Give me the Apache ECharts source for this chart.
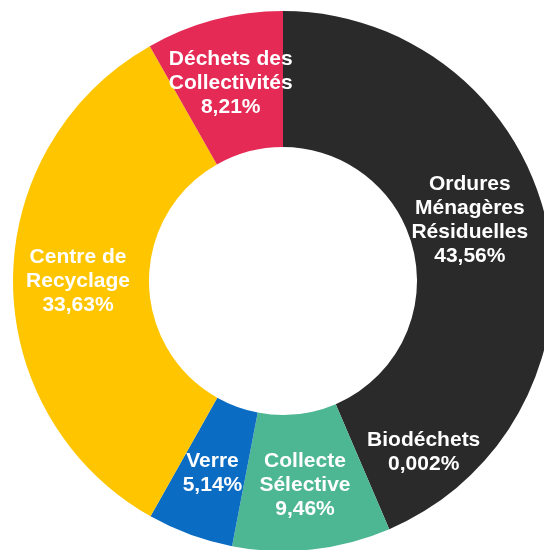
<!DOCTYPE html>
<html>
<head>
<meta charset="utf-8">
<script src="https://cdn.jsdelivr.net/npm/echarts@6/dist/echarts.min.js"></script>
<style>
    html, body { margin: 0; padding: 0; background: #ffffff; }
    #chart-waste { width: 544px; height: 550px; }
</style>
</head>
<body>
<div id="chart-waste"></div>
<script>
// Catégories de déchets, dans l'ordre horaire à partir de midi
const categories = [
    "Ordures\nMénagères\nRésiduelles",
    "Biodéchets",
    "Collecte\nSélective",
    "Verre",
    "Centre de\nRecyclage",
    "Déchets des\nCollectivités"
];

// Part de chaque catégorie, en %
const shares = [43.56, 0.002, 9.46, 5.14, 33.63, 8.21];

const colors = ["#2b2a2a", "#2b2a2a", "#4db692", "#0b6cc3", "#ffc600", "#e42a55"];

// Décalage des étiquettes qui ne sont pas au milieu de leur secteur
const labelShift = {
    0: [-14, -20],
    1: [60, -17]
};

const chart = echarts.init(document.getElementById("chart-waste"), null, { renderer: "canvas" });

chart.setOption({
    animation: false,
    backgroundColor: "#ffffff",
    series: [
        {
            type: "pie",
            center: [283, 281],
            radius: [134, 270],
            startAngle: 90,
            clockwise: true,
            avoidLabelOverlap: false,
            label: {
                show: true,
                position: "inside",
                color: "#ffffff",
                fontFamily: "Liberation Sans, Arial, sans-serif",
                fontWeight: "bold",
                fontSize: 21,
                lineHeight: 24,
                align: "center",
                formatter: p => p.name + "\n" + String(p.value).replace(".", ",") + "%"
            },
            labelLine: { show: false },
            itemStyle: { borderWidth: 0 },
            emphasis: { disabled: true },
            data: categories.map((name, i) => ({
                name: name,
                value: shares[i],
                itemStyle: { color: colors[i] },
                label: labelShift[i] ? { offset: labelShift[i] } : {}
            }))
        }
    ]
});
</script>
</body>
</html>
